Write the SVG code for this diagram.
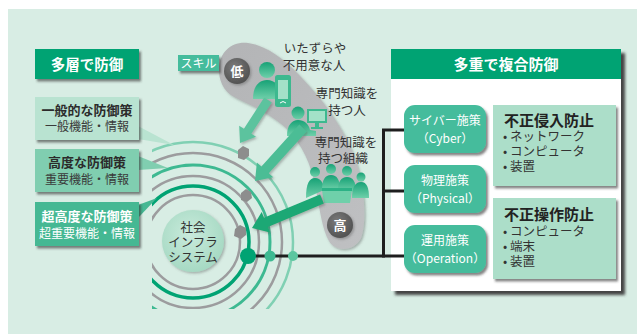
<svg xmlns="http://www.w3.org/2000/svg" width="637" height="334" viewBox="0 0 637 334">
  <defs>
    <style>
      .jp { font-family: "Noto Sans CJK JP", "Noto Sans", sans-serif; }
      .ttl { font-size: 13px; font-weight: bold; fill: #2b2b2b; }
      .sub { font-size: 12px; fill: #3a3a3a; }
      .wt { fill: #ffffff; }
      .lbl { font-size: 12.5px; fill: #333333; }
      .btn { fill: #45bc9c; }
      .btxt { font-size: 12px; fill: #ffffff; }
      .info { fill: #acdec9; }
      .ih { font-size: 15px; font-weight: bold; fill: #222222; }
      .it { font-size: 12.5px; fill: #333333; }
      .ring { fill: none; }
      .conn { stroke: #1e1e1e; stroke-width: 3; fill: none; }
      .ppl { fill: url(#pplGrad); }
      .block { fill: #8d8d8d; }
    </style>
    <filter id="sh" x="-20%" y="-20%" width="150%" height="150%">
      <feDropShadow dx="2" dy="2.5" stdDeviation="1" flood-color="#333333" flood-opacity="0.6"/>
    </filter>
    <filter id="soft" x="-20%" y="-20%" width="150%" height="150%">
      <feDropShadow dx="1.5" dy="1.5" stdDeviation="1.2" flood-color="#555555" flood-opacity="0.4"/>
    </filter>
    <filter id="blur3"><feGaussianBlur stdDeviation="1.5"/></filter>
    <clipPath id="ringClip">
      <rect x="152" y="0" width="300" height="309"/>
    </clipPath>
    <radialGradient id="coreGrad" cx="0.45" cy="0.4" r="0.6">
      <stop offset="0" stop-color="#c9ebdc"/>
      <stop offset="1" stop-color="#a6d9c3"/>
    </radialGradient>
    <radialGradient id="knobGrad" cx="0.4" cy="0.35" r="0.7">
      <stop offset="0" stop-color="#7a7a7a"/>
      <stop offset="1" stop-color="#505050"/>
    </radialGradient>
    <linearGradient id="bandGrad" x1="0" y1="0" x2="1" y2="1">
      <stop offset="0" stop-color="#b3b4b6"/>
      <stop offset="1" stop-color="#bfc0c2"/>
    </linearGradient>
    <linearGradient id="pplGrad" x1="0" y1="0" x2="0" y2="1">
      <stop offset="0" stop-color="#17a276"/>
      <stop offset="1" stop-color="#6fd0aa"/>
    </linearGradient>
  </defs>

  <!-- background panel -->
  <rect x="8" y="9" width="629" height="325" fill="#d8ede4"/>

  <!-- concentric defence rings -->
  <g id="rings" clip-path="url(#ringClip)">
    <circle class="ring" cx="193" cy="242" r="100" stroke="#80d0b3" stroke-width="2.5"/>
    <circle class="ring" cx="193" cy="242" r="89" stroke="#9c9c9e" stroke-width="2.5"/>
    <circle class="ring" cx="193" cy="242" r="77" stroke="#3db991" stroke-width="3"/>
    <circle class="ring" cx="193" cy="242" r="66" stroke="#9c9c9e" stroke-width="2.5"/>
    <circle class="ring" cx="193" cy="242" r="56" stroke="#00a373" stroke-width="3.5"/>
    <circle class="ring" cx="193" cy="242" r="47" stroke="#9c9c9e" stroke-width="2.5"/>
  </g>

  <!-- core: social infrastructure -->
  <g id="core">
    <circle cx="193" cy="241" r="31" fill="url(#coreGrad)" filter="url(#soft)"/>
    <text class="jp lbl" x="193" y="232" text-anchor="middle">社会</text>
    <text class="jp lbl" x="193" y="247" text-anchor="middle">インフラ</text>
    <text class="jp lbl" x="193" y="262" text-anchor="middle">システム</text>
  </g>

  <!-- skill band -->
  <g id="skill-band">
    <path d="M219,72 C218,52 232,41 248,43 C268,46 285,60 300,76 C325,102 347,132 357,165 C366,195 366,225 361,238 C355,251 336,253 329,241 C322,229 320,210 316,190 C311,163 302,145 288,130 C270,113 250,105 236,98 C226,93 220,85 219,72 Z" fill="url(#bandGrad)" filter="url(#soft)"/>
    <g id="skill-low">
      <circle cx="237" cy="71" r="13" fill="url(#knobGrad)" filter="url(#soft)"/>
      <text class="jp" x="237" y="76" text-anchor="middle" font-size="13" font-weight="bold" fill="#ffffff">低</text>
    </g>
    <g id="skill-high">
      <circle cx="340" cy="225" r="13" fill="url(#knobGrad)" filter="url(#soft)"/>
      <text class="jp" x="340" y="230" text-anchor="middle" font-size="13" font-weight="bold" fill="#ffffff">高</text>
    </g>
  </g>

  <!-- skill tag -->
  <g id="skill-tag">
    <rect x="178" y="55" width="41" height="16" fill="#45bc9c" filter="url(#sh)"/>
    <text class="jp" x="198.5" y="68" text-anchor="middle" font-size="12" fill="#ffffff">スキル</text>
  </g>

  <!-- threat actors -->
  <g id="actor-careless">
    <circle class="ppl" cx="267" cy="70" r="8"/>
    <path class="ppl" d="M253,99 C253,86 259,80 267,80 C275,80 281,86 281,99 Z"/>
    <rect x="275" y="75" width="16" height="32" rx="2.5" fill="#3db98f"/>
    <rect x="278" y="80" width="10" height="19" fill="#a3e1c8"/>
    <path d="M280,103 Q283,100 286,103" stroke="#ffffff" stroke-width="1" fill="none"/>
    <text class="jp lbl" x="315" y="53" text-anchor="middle">いたずらや</text>
    <text class="jp lbl" x="314" y="70" text-anchor="middle">不用意な人</text>
  </g>

  <g id="actor-expert">
    <circle class="ppl" cx="298" cy="113" r="6.5"/>
    <path class="ppl" d="M287,136 C287,125 292,120 298,120 C304,120 309,124 310,130 L316,131 L316,136 Z"/>
    <rect x="307" y="109" width="20" height="14" fill="#3db98f"/>
    <rect x="309" y="111" width="16" height="10" fill="#a3e1c8"/>
    <rect x="315" y="123" width="4" height="4" fill="#3db98f"/>
    <rect x="311" y="127" width="12" height="2" fill="#3db98f"/>
    <text class="jp lbl" x="347" y="98" text-anchor="middle">専門知識を</text>
    <text class="jp lbl" x="347" y="115" text-anchor="middle">持つ人</text>
  </g>

  <g id="actor-organization">
    <circle class="ppl" cx="315" cy="172" r="5"/>
    <circle class="ppl" cx="331" cy="169" r="5"/>
    <circle class="ppl" cx="347" cy="171" r="5"/>
    <circle class="ppl" cx="361" cy="177" r="4.5"/>
    <path class="ppl" d="M306,198 C306,184 309,178 315,178 C321,178 324,184 324,190 Z"/>
    <path class="ppl" d="M322,190 C322,180 325,175 331,175 C337,175 340,180 340,190 Z"/>
    <path class="ppl" d="M338,190 C338,182 341,177 347,177 C353,177 356,182 356,192 Z"/>
    <path class="ppl" d="M352,198 C352,188 355,182 361,182 C367,182 369,188 369,198 Z"/>
    <path d="M322,190 L352,190 L350,203 L324,203 Z" fill="#6fd0aa"/>
    <rect x="322" y="188" width="30" height="3" fill="#2cb286"/>
    <text class="jp lbl" x="346" y="147" text-anchor="middle">専門知識を</text>
    <text class="jp lbl" x="343" y="163" text-anchor="middle">持つ組織</text>
  </g>

  <!-- attack arrows -->
  <g id="attacks" filter="url(#soft)">
    <polygon points="264.2,97.5 243.9,128.8 239.2,125.8 240,143 256,136.8 251.4,133.8 271.8,102.5" fill="#5cc39e"/>
    <polygon points="299.3,124.6 261.4,166.5 256.9,162.5 255,181 273.2,177.3 268.8,173.3 306.7,131.4" fill="#4cbd95"/>
    <polygon points="320.1,194.4 264,217.7 261.7,212.1 252,228 270.1,232.5 267.8,226.9 323.9,203.6" fill="#1aa874"/>
  </g>

  <!-- blocked points -->
  <g id="blocked">
    <polygon class="block" points="238,150 243,146 249,149 249,156 244,160 238,158"/>
    <polygon class="block" points="241,193 246,189 251,192 252,198 247,202 241,200"/>
    <polygon class="block" points="235,229 240,225 246,228 246,235 241,239 234,236"/>
  </g>

  <!-- left: layered defence -->
  <g id="layered-title">
    <rect x="35" y="49" width="104" height="30" fill="#00a373" filter="url(#sh)"/>
    <text class="jp" x="87" y="70" text-anchor="middle" font-size="14.5" font-weight="bold" fill="#ffffff">多層で防御</text>
  </g>

  <g id="callout-general">
    <polygon points="138,126 138,139 174,145" fill="#b9e3d1"/>
    <rect x="35" y="97" width="104" height="43" fill="#b9e3d1" filter="url(#sh)"/>
    <text class="jp ttl" x="87" y="115" text-anchor="middle">一般的な防御策</text>
    <text class="jp sub" x="87" y="131" text-anchor="middle">一般機能・情報</text>
  </g>

  <g id="callout-advanced">
    <polygon points="138,156 138,170 168,168" fill="#80ceb0"/>
    <rect x="35" y="149" width="104" height="43" fill="#80ceb0" filter="url(#sh)"/>
    <text class="jp ttl" x="87" y="167" text-anchor="middle">高度な防御策</text>
    <text class="jp sub" x="87" y="184" text-anchor="middle">重要機能・情報</text>
  </g>

  <g id="callout-critical">
    <polygon points="138,205 138,218 157,198" fill="#45b893"/>
    <rect x="35" y="202" width="104" height="44" fill="#45b893" filter="url(#sh)"/>
    <text class="jp ttl wt" x="87" y="221" text-anchor="middle">超高度な防御策</text>
    <text class="jp sub wt" x="87" y="238" text-anchor="middle">超重要機能・情報</text>
  </g>

  <!-- right: multiple combined defence -->
  <g id="combined-panel">
    <rect x="395" y="53" width="230" height="242" fill="#444444" filter="url(#blur3)"/>
    <rect x="391" y="49" width="230" height="242" fill="#ffffff"/>
    <rect x="391" y="49" width="230" height="30" fill="#00a373"/>
    <text class="jp" x="506" y="70" text-anchor="middle" font-size="15" font-weight="bold" fill="#ffffff">多重で複合防御</text>
  </g>

  <!-- connectors -->
  <g id="connectors">
    <line class="conn" x1="248" y1="256" x2="405" y2="256"/>
    <line class="conn" x1="383.5" y1="130" x2="383.5" y2="257.5"/>
    <line class="conn" x1="382" y1="130" x2="405" y2="130"/>
    <line class="conn" x1="382" y1="191" x2="405" y2="191"/>
  </g>

  <g id="measure-cyber">
    <rect class="btn" x="404" y="105" width="82" height="48" rx="11" filter="url(#sh)"/>
    <text class="jp btxt" x="445" y="125" text-anchor="middle">サイバー施策</text>
    <text class="jp btxt" x="445" y="143" text-anchor="middle">（Cyber）</text>
  </g>
  <g id="measure-physical">
    <rect class="btn" x="404" y="165" width="82" height="48" rx="11" filter="url(#sh)"/>
    <text class="jp btxt" x="445" y="185" text-anchor="middle">物理施策</text>
    <text class="jp btxt" x="445" y="203" text-anchor="middle">（Physical）</text>
  </g>
  <g id="measure-operation">
    <rect class="btn" x="404" y="225" width="82" height="48" rx="11" filter="url(#sh)"/>
    <text class="jp btxt" x="445" y="245" text-anchor="middle">運用施策</text>
    <text class="jp btxt" x="445" y="263" text-anchor="middle">（Operation）</text>
  </g>

  <g id="intrusion">
    <rect class="info" x="493" y="105" width="123" height="81" filter="url(#sh)"/>
    <text class="jp ih" x="504" y="126">不正侵入防止</text>
    <text class="jp it" x="503" y="141">• ネットワーク</text>
    <text class="jp it" x="503" y="156">• コンピュータ</text>
    <text class="jp it" x="503" y="171">• 装置</text>
  </g>
  <g id="misuse">
    <rect class="info" x="493" y="198" width="123" height="81" filter="url(#sh)"/>
    <text class="jp ih" x="504" y="220">不正操作防止</text>
    <text class="jp it" x="503" y="236">• コンピュータ</text>
    <text class="jp it" x="503" y="251">• 端末</text>
    <text class="jp it" x="503" y="266">• 装置</text>
  </g>

  <!-- ring junctions -->
  <g id="junctions">
    <circle cx="248" cy="256" r="8" fill="#00a373"/>
    <circle cx="270" cy="256" r="5.5" fill="#3db991"/>
    <circle cx="293" cy="256" r="5" fill="#5cc6a0"/>
  </g>
</svg>
